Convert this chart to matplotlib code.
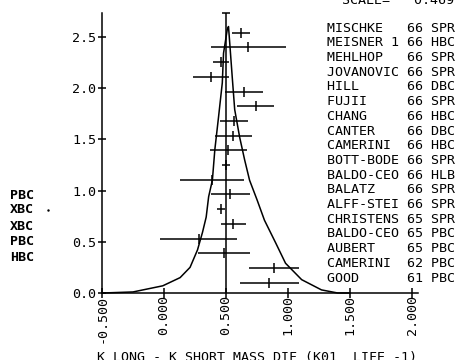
import matplotlib
matplotlib.use("Agg")
import matplotlib.pyplot as plt
import numpy as np

plt.rcParams['font.family'] = 'DejaVu Sans Mono'

# measurements, top to bottom
names = ["MISCHKE", "MEISNER 1", "MEHLHOP", "JOVANOVIC", "HILL", "FUJII",
         "CHANG", "CANTER", "CAMERINI", "BOTT-BODE", "BALDO-CEO", "BALATZ",
         "ALFF-STEI", "CHRISTENS", "BALDO-CEO", "AUBERT", "CAMERINI", "GOOD"]
years = ["66", "66", "66", "66", "66", "66", "66", "66", "66", "66", "66",
         "66", "66", "65", "65", "65", "62", "61"]
kinds = ["SPR", "HBC", "SPR", "SPR", "DBC", "SPR", "HBC", "DBC", "HBC",
         "SPR", "HLB", "SPR", "SPR", "SPR", "PBC", "PBC", "PBC", "PBC"]
values = [0.62, 0.68, 0.46, 0.38, 0.645, 0.74, 0.565, 0.56, 0.52, 0.50,
          0.385, 0.535, 0.46, 0.56, 0.28, 0.485, 0.885, 0.85]
errors = [0.073, 0.30, 0.065, 0.145, 0.157, 0.15, 0.113, 0.15, 0.15, 0.03,
          0.26, 0.16, 0.03, 0.10, 0.31, 0.21, 0.20, 0.24]

# ideogram curve
curve_x = [-0.49, -0.25, -0.01, 0.13, 0.21, 0.27, 0.31, 0.34, 0.36, 0.39,
           0.41, 0.44, 0.47, 0.48, 0.51, 0.52, 0.53, 0.55, 0.57, 0.61, 0.65,
           0.69, 0.75, 0.81, 0.90, 0.98, 1.11, 1.27, 1.40, 1.50]
curve_y = [0.0, 0.01, 0.07, 0.15, 0.25, 0.42, 0.59, 0.74, 0.94, 1.10,
           1.40, 1.72, 2.05, 2.34, 2.57, 2.60, 2.44, 2.11, 1.79, 1.52, 1.30,
           1.10, 0.91, 0.71, 0.49, 0.29, 0.13, 0.03, 0.0, 0.0]
mean_value = 0.50
mean_top = 2.73

left_labels = ["PBC", "XBC", "XBC", "PBC", "HBC"]
left_y = [0.956, 0.810, 0.644, 0.498, 0.351]

xticks = [-0.5, 0.0, 0.5, 1.0, 1.5, 2.0]
xticklabels = ["-0.500", "0.000", "0.500", "1.000", "1.500", "2.000"]
yticks = [0.0, 0.5, 1.0, 1.5, 2.0, 2.5]
yticklabels = ["0.0", "0.5", "1.0", "1.5", "2.0", "2.5"]

fig = plt.figure(figsize=(4.61, 3.60), dpi=100)
ax = fig.add_axes([0, 0, 1, 1])
ax.set_xlim(-1.3226, 2.395)
ax.set_ylim(-0.654, 2.859)
ax.patch.set_alpha(0)

lw = 1.1
rows = 2.54 - 0.1435 * np.arange(len(names))

ax.errorbar(values, rows, xerr=errors, fmt='none', ecolor='black', elinewidth=lw)
ax.plot(values, rows, ls='none', marker='|', ms=7, mew=lw, color='black')
ax.plot(curve_x, curve_y, color='black', lw=lw)
ax.vlines(mean_value, 0, mean_top, color='black', lw=lw)
ax.plot([mean_value], [mean_top], marker='_', ms=6, mew=lw, color='black')

for r, n, yr, k in zip(rows, names, years, kinds):
    ax.text(1.3145, r + 0.045, f"{n:<10}{yr} {k}", fontsize=9.6,
            va='center', ha='left')

for y, t in zip(left_y, left_labels):
    ax.text(-1.24, y, t, fontsize=9.6, fontweight='bold', va='center', ha='left')
ax.plot([-0.935], [0.81], marker='.', ms=1.5, color='black')

ax.text(-0.54, -0.63, "K LONG - K SHORT MASS DIF (K01  LIFE -1)",
        fontsize=9.6, va='center', ha='left')
# header line, mostly cut off by the top edge
ax.text(1.435, 2.82, "SCALE=   0.469", fontsize=9.6, va='baseline', ha='left')

for s in ['top', 'right']:
    ax.spines[s].set_visible(False)
ax.spines['left'].set_position(('data', -0.5))
ax.spines['left'].set_bounds(0, mean_top)
ax.spines['bottom'].set_position(('data', 0))
ax.spines['bottom'].set_bounds(-0.5, 2.05)
ax.spines['left'].set_linewidth(lw)
ax.spines['bottom'].set_linewidth(lw)

ax.set_xticks(xticks)
ax.set_xticklabels(xticklabels, rotation=90, fontsize=9.6)
ax.set_yticks(yticks)
ax.set_yticklabels(yticklabels, fontsize=9.6)
ax.tick_params(axis='x', direction='inout', length=7, width=lw, pad=-2)
ax.tick_params(axis='y', direction='inout', length=6, width=lw, pad=1)

fig.savefig("out.png", dpi=100)
